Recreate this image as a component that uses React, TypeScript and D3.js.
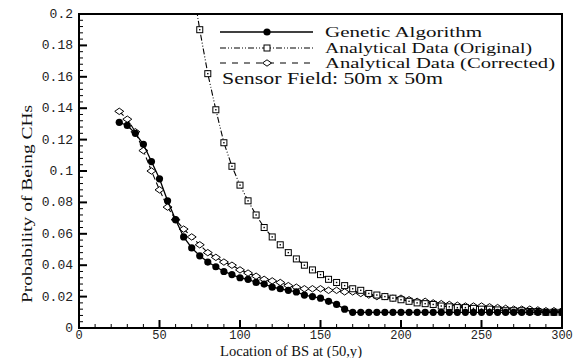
import React from "react";
import * as d3 from "d3";

/* ---------------- data ---------------- */

const gaX = [25, 30, 35, 40, 45, 50, 55, 60, 65, 70, 75, 80, 85, 90, 95, 100, 105, 110, 115, 120, 125, 130, 135, 140, 145, 150, 155, 160, 165, 170, 175, 180, 185, 190, 195, 200, 205, 210, 215, 220, 225, 230, 235, 240, 245, 250, 255, 260, 265, 270, 275, 280, 285, 290, 295, 300];
const gaY = [0.131, 0.129, 0.124, 0.117, 0.106, 0.095, 0.081, 0.069, 0.058, 0.051, 0.046, 0.042, 0.039, 0.036, 0.034, 0.032, 0.031, 0.029, 0.028, 0.026, 0.025, 0.024, 0.023, 0.021, 0.020, 0.019, 0.017, 0.015, 0.012, 0.010, 0.010, 0.010, 0.010, 0.010, 0.010, 0.010, 0.010, 0.010, 0.010, 0.010, 0.010, 0.010, 0.010, 0.010, 0.010, 0.010, 0.010, 0.010, 0.010, 0.010, 0.010, 0.010, 0.010, 0.010, 0.010, 0.010];

const origX = [70, 75, 80, 85, 90, 95, 100, 105, 110, 115, 120, 125, 130, 135, 140, 145, 150, 155, 160, 165, 170, 175, 180, 185, 190, 195, 200, 205, 210, 215, 220, 225, 230, 235, 240, 245, 250, 255, 260, 265, 270, 275, 280, 285, 290, 295, 300];
const origY = [0.222, 0.19, 0.162, 0.139, 0.118, 0.103, 0.091, 0.081, 0.072, 0.064, 0.058, 0.053, 0.048, 0.044, 0.040, 0.037, 0.034, 0.031, 0.029, 0.027, 0.025, 0.024, 0.022, 0.021, 0.020, 0.019, 0.018, 0.017, 0.016, 0.0155, 0.015, 0.014, 0.0135, 0.013, 0.013, 0.0125, 0.012, 0.012, 0.0115, 0.011, 0.011, 0.011, 0.0105, 0.0105, 0.010, 0.010, 0.010];

const corrX = [25, 30, 35, 40, 45, 50, 55, 60, 65, 70, 75, 80, 85, 90, 95, 100, 105, 110, 115, 120, 125, 130, 135, 140, 145, 150, 155, 160, 165, 170, 175, 180, 185, 190, 195, 200, 205, 210, 215, 220, 225, 230, 235, 240, 245, 250, 255, 260, 265, 270, 275, 280, 285, 290, 295, 300];
const corrY = [0.138, 0.133, 0.125, 0.113, 0.100, 0.088, 0.077, 0.069, 0.063, 0.058, 0.053, 0.048, 0.045, 0.042, 0.040, 0.037, 0.035, 0.033, 0.031, 0.030, 0.029, 0.027, 0.026, 0.025, 0.025, 0.025, 0.024, 0.024, 0.023, 0.023, 0.022, 0.021, 0.020, 0.020, 0.019, 0.019, 0.018, 0.017, 0.017, 0.016, 0.0155, 0.015, 0.0145, 0.014, 0.014, 0.014, 0.0135, 0.013, 0.0125, 0.012, 0.012, 0.012, 0.0115, 0.011, 0.011, 0.011];

const xTicks = [0, 50, 100, 150, 200, 250, 300];
const yTicks = [0, 0.02, 0.04, 0.06, 0.08, 0.1, 0.12, 0.14, 0.16, 0.18, 0.2];
const yTickLabels = ["0", "0.02", "0.04", "0.06", "0.08", "0.1", "0.12", "0.14", "0.16", "0.18", "0.2"];

const legendLabels = ["Genetic Algorithm", "Analytical Data (Original)", "Analytical Data (Corrected)"];
const legendWidths = [157, 207, 230];
const noteText = "Sensor Field: 50m x 50m";

/* ---------------- layout ---------------- */

const W = 578;
const H = 358;
const left = 79;
const right = 562;
const top = 14;
const bottom = 328;

const serif = "'Liberation Serif', 'DejaVu Serif', serif";
const mono = "'Liberation Mono', 'DejaVu Sans Mono', monospace";

type Pt = [number, number];
const zip = (xs: number[], ys: number[]): Pt[] => xs.map((x, i) => [x, ys[i]]);

export default function App() {
  const x = d3.scaleLinear().domain([0, 300]).range([left, right]);
  const y = d3.scaleLinear().domain([0, 0.2]).range([bottom, top]);

  const line = d3
    .line<Pt>()
    .x((d) => x(d[0]))
    .y((d) => y(d[1]));

  const ga = zip(gaX, gaY);
  const orig = zip(origX, origY);
  const corr = zip(corrX, corrY);

  const xMinor = d3.range(0, 301, 10).filter((v) => v % 50 !== 0);
  const yMinor = d3.range(0, 51, 1).map((v) => v * 0.004).filter((_, i) => i % 5 !== 0);

  const diamond = (cx: number, cy: number) =>
    `M${cx - 4.5},${cy} L${cx},${cy - 3.2} L${cx + 4.5},${cy} L${cx},${cy + 3.2} Z`;

  const legY = [32, 48, 63];
  const legX0 = 220;
  const legX1 = 313;
  const legMid = 267;

  return (
    <svg width={W} height={H} style={{ position: "absolute", left: 0, top: 0, background: "#fff" }}>
      <defs>
        <clipPath id="plot">
          <rect x={left} y={top} width={right - left} height={bottom - top} />
        </clipPath>
      </defs>

      {/* series */}
      <g clipPath="url(#plot)">
        <path d={line(corr) ?? ""} fill="none" stroke="#000" strokeWidth={1.1} strokeDasharray="6,3" />
        {corr.map((d, i) => (
          <path key={`c${i}`} d={diamond(x(d[0]), y(d[1]))} fill="#fff" stroke="#000" strokeWidth={1} />
        ))}

        <path d={line(orig) ?? ""} fill="none" stroke="#000" strokeWidth={1.1} strokeDasharray="6,2,1,2,1,2" />
        {orig.map((d, i) => (
          <g key={`o${i}`}>
            <rect x={x(d[0]) - 3} y={y(d[1]) - 3} width={6} height={6} fill="#fff" stroke="#000" strokeWidth={1} />
            <rect x={x(d[0]) - 0.7} y={y(d[1]) - 0.7} width={1.4} height={1.4} fill="#000" />
          </g>
        ))}

        <path d={line(ga) ?? ""} fill="none" stroke="#000" strokeWidth={1.3} />
        {ga.map((d, i) => (
          <circle key={`g${i}`} cx={x(d[0])} cy={y(d[1])} r={3.6} fill="#000" />
        ))}
      </g>

      {/* frame */}
      <rect x={left} y={top} width={right - left} height={bottom - top} fill="none" stroke="#000" strokeWidth={2} />

      {/* x ticks */}
      {xTicks.map((v) => (
        <g key={`xt${v}`}>
          <line x1={x(v)} x2={x(v)} y1={bottom} y2={bottom - 8} stroke="#000" strokeWidth={2} />
          <text x={x(v)} y={339} textAnchor="middle" fontFamily={mono} fontSize={12} fill="#222">
            {v}
          </text>
        </g>
      ))}
      {xMinor.map((v) => (
        <line key={`xm${v}`} x1={x(v)} x2={x(v)} y1={bottom} y2={bottom - 4} stroke="#000" strokeWidth={1} />
      ))}

      {/* y ticks */}
      {yTicks.map((v, i) => (
        <g key={`yt${v}`}>
          <line x1={left} x2={left + 8} y1={y(v)} y2={y(v)} stroke="#000" strokeWidth={2} />
          <text x={73} y={y(v) + 4} textAnchor="end" fontFamily={mono} fontSize={13} fill="#222">
            {yTickLabels[i]}
          </text>
        </g>
      ))}
      {yMinor.map((v, i) => (
        <line key={`ym${i}`} x1={left} x2={left + 4} y1={y(v)} y2={y(v)} stroke="#000" strokeWidth={1} />
      ))}

      {/* axis titles */}
      <text
        x={291}
        y={356}
        textAnchor="middle"
        fontFamily={serif}
        fontSize={14}
        fill="#111"
        textLength={142}
        lengthAdjust="spacingAndGlyphs"
      >
        Location of BS at (50,y)
      </text>
      <text
        transform="translate(32,204) rotate(-90)"
        textAnchor="middle"
        fontFamily={serif}
        fontSize={15}
        fill="#111"
        textLength={198}
        lengthAdjust="spacingAndGlyphs"
      >
        Probability of Being CHs
      </text>

      {/* legend */}
      <line x1={legX0} x2={legX1} y1={legY[0]} y2={legY[0]} stroke="#000" strokeWidth={1.3} />
      <circle cx={legMid} cy={legY[0]} r={3.6} fill="#000" />

      <line x1={legX0} x2={legX1} y1={legY[1]} y2={legY[1]} stroke="#000" strokeWidth={1.1} strokeDasharray="6,2,1,2,1,2" />
      <rect x={legMid - 3} y={legY[1] - 3} width={6} height={6} fill="#fff" stroke="#000" strokeWidth={1} />

      <line x1={legX0} x2={legX1} y1={legY[2]} y2={legY[2]} stroke="#000" strokeWidth={1.1} strokeDasharray="6,6" />
      <path d={diamond(legMid, legY[2])} fill="#fff" stroke="#000" strokeWidth={1} />

      {legendLabels.map((t, i) => (
        <text
          key={t}
          x={325}
          y={legY[i] + 5}
          fontFamily={serif}
          fontSize={15}
          fill="#111"
          textLength={legendWidths[i]}
          lengthAdjust="spacingAndGlyphs"
        >
          {t}
        </text>
      ))}
      <text
        x={222}
        y={84}
        fontFamily={serif}
        fontSize={16}
        fill="#111"
        textLength={221}
        lengthAdjust="spacingAndGlyphs"
      >
        {noteText}
      </text>
    </svg>
  );
}
